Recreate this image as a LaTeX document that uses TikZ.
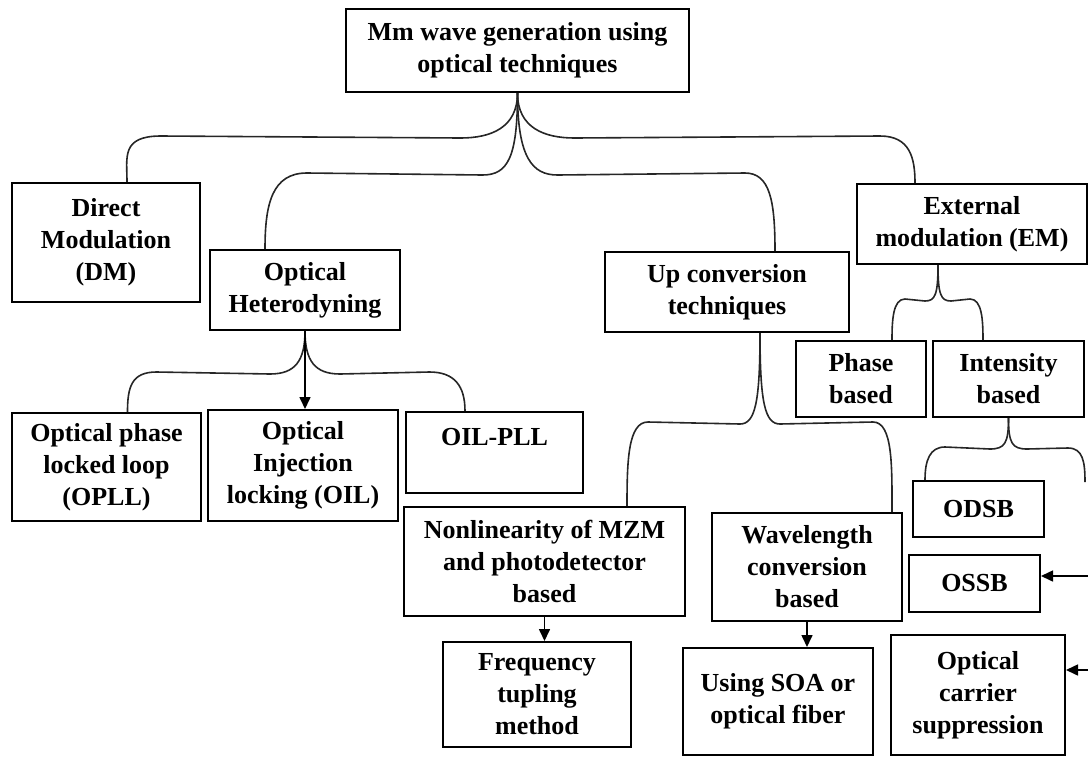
\documentclass[tikz,border=0pt]{standalone}
\usepackage{fontspec}
\setmainfont{Liberation Serif}
\usetikzlibrary{calc,arrows.meta}

\begin{document}
\begin{tikzpicture}[x=0.5pt, y=-0.5pt, every node/.style={font=\bfseries\fontsize{13}{16}\selectfont}]
    \tikzset{box/.style={rectangle, draw, line width=1pt, align=center, inner sep=2pt}}
    \tikzset{brace/.style={draw, line width=0.8pt, black!85}}
    \tikzset{line/.style={draw, line width=0.8pt, -{Triangle[length=6pt, width=5.5pt]}}}
    \useasboundingbox (0,0) rectangle (1088,756);

    \node [box, minimum width=171.5pt, minimum height=41.5pt] (root) at (517.5,50.5) {Mm wave generation using\\optical techniques};
    \node [box, minimum width=94pt, minimum height=59.5pt] (dm) at (106,242.5) {Direct\\Modulation\\(DM)};
    \node [box, minimum width=95pt, minimum height=40pt] (oh) at (305,290) {Optical\\Heterodyning};
    \node [box, minimum width=122pt, minimum height=40pt] (upc) at (727,292) {Up conversion\\techniques};
    \node [box, minimum width=115pt, minimum height=40pt] (em) at (972,224) {External\\modulation (EM)};
    \node [box, minimum width=65pt, minimum height=38pt] (phase) at (861,379) {Phase\\based};
    \node [box, minimum width=75.5pt, minimum height=38pt] (inten) at (1008.5,379) {Intensity\\based};

    \node [box, minimum width=94.5pt, minimum height=54pt] (opll) at (106.5,467) {Optical phase\\locked loop\\(OPLL)};
    \node [box, minimum width=95pt, minimum height=55.5pt] (oil) at (303,465.5) {Optical\\Injection\\locking (OIL)};
    \node [box, minimum width=88.5pt, minimum height=40.5pt] (oilpll) at (494.5,452.5) {OIL-PLL\\~};
    \node [box, minimum width=140.5pt, minimum height=54.5pt] (nonlin) at (544.5,561.5) {Nonlinearity of MZM\\and photodetector\\based};
    \node [box, minimum width=95pt, minimum height=54pt] (wave) at (807,567) {Wavelength\\conversion\\based};
    \node [box, minimum width=94pt, minimum height=52.5pt] (freq) at (537,694.5) {Frequency\\tupling\\method};
    \node [box, minimum width=95pt, minimum height=53.5pt] (soa) at (778,701.5) {Using SOA or\\optical fiber};
    \node [box, minimum width=65.5pt, minimum height=28pt] (odsb) at (978.5,509) {ODSB};
    \node [box, minimum width=65.5pt, minimum height=28.5pt] (ossb) at (974.5,583.5) {OSSB};
    \node [box, minimum width=87pt, minimum height=60pt] (ocs) at (978,695) {Optical\\carrier\\suppression};

    \coordinate (iend) at (1085,482);
    \coordinate (ein1) at (1088,576);
    \coordinate (ein2) at (1088,670);

    % main brace
    \path [brace] (root.south) .. controls +(0,35) and +(30,0) .. ($(root.south)+(-57,45)$) -- ($(dm.north)+(55,-46)$) .. controls +(-40,0) and +(0,-25) .. ($(dm.north)+(21,0)$);
    \path [brace] (root.south) .. controls +(0,35) and +(-30,0) .. ($(root.south)+(57,45)$) -- ($(em.north)+(-92,-47)$) .. controls +(30,0) and +(0,-25) .. ($(em.north)+(-57,0)$);
    \path [brace] (root.south) .. controls +(0,65) and +(25,0) .. ($(root.south)+(-35,82)$) -- ($(oh.north)+(2,-76)$) .. controls +(-35,0) and +(0,-45) .. ($(oh.north)+(-40,0)$);
    \path [brace] (root.south) .. controls +(0,65) and +(-25,0) .. ($(root.south)+(40,82)$) -- ($(upc.north)+(18,-78)$) .. controls +(25,0) and +(0,-50) .. ($(upc.north)+(48,0)$);

    % heterodyning
    \path [brace] (oh.south) .. controls +(0,30) and +(25,0) .. ($(oh.south)+(-35,43)$) -- ($(opll.north)+(50,-40)$) .. controls +(-25,0) and +(0,-25) .. ($(opll.north)+(21,0)$);
    \path [brace] (oh.south) .. controls +(0,30) and +(-25,0) .. ($(oh.south)+(35,43)$) -- ($(oilpll.north)+(-65,-39)$) .. controls +(25,0) and +(0,-25) .. ($(oilpll.north)+(-29.5,0)$);
    \path [line] (oh.south) -- (oh.south |- oil.north);

    % up conversion
    \path [brace] ($(upc.south)+(33,0)$) .. controls +(0,70) and +(15,0) .. ($(upc.south)+(13,91)$) -- ($(nonlin.north)+(103.5,-84)$) .. controls +(-20,0) and +(0,-45) .. ($(nonlin.north)+(82.5,0)$);
    \path [brace] ($(upc.south)+(33,0)$) .. controls +(0,70) and +(-15,0) .. ($(upc.south)+(53,91)$) -- ($(wave.north)+(66,-90)$) .. controls +(20,0) and +(0,-45) .. ($(wave.north)+(85,0)$);
    \path [line] (nonlin.south) -- (nonlin.south |- freq.north);
    \path [line] (wave.south) -- (wave.south |- soa.north);

    % external modulation
    \path [brace] ($(em.south)+(-34,0)$) .. controls +(0,30) and +(10,0) .. ($(em.south)+(-47,36)$) -- ($(phase.north)+(44,-41)$) .. controls +(-12,0) and +(0,-20) .. ($(phase.north)+(31,0)$);
    \path [brace] ($(em.south)+(-34,0)$) .. controls +(0,30) and +(-10,0) .. ($(em.south)+(-21,36)$) -- ($(inten.north)+(-38.5,-41)$) .. controls +(12,0) and +(0,-20) .. ($(inten.north)+(-25.5,0)$);
    \path [brace] (inten.south) .. controls +(0,25) and +(15,0) .. ($(inten.south)+(-18.5,31)$) -- ($(odsb.north)+(-33.5,-33)$) .. controls +(-15,0) and +(0,-20) .. ($(odsb.north)+(-53.5,0)$);
    \path [brace] (inten.south) .. controls +(0,25) and +(-15,0) .. ($(inten.south)+(18.5,31)$) -- ($(iend)+(-17,-34)$) .. controls +(15,0) and +(0,-20) .. (iend);
    \path [line] (ein1) -- (ein1 -| ossb.east);
    \path [line] (ein2) -- (ein2 -| ocs.east);
\end{tikzpicture}
\end{document}
